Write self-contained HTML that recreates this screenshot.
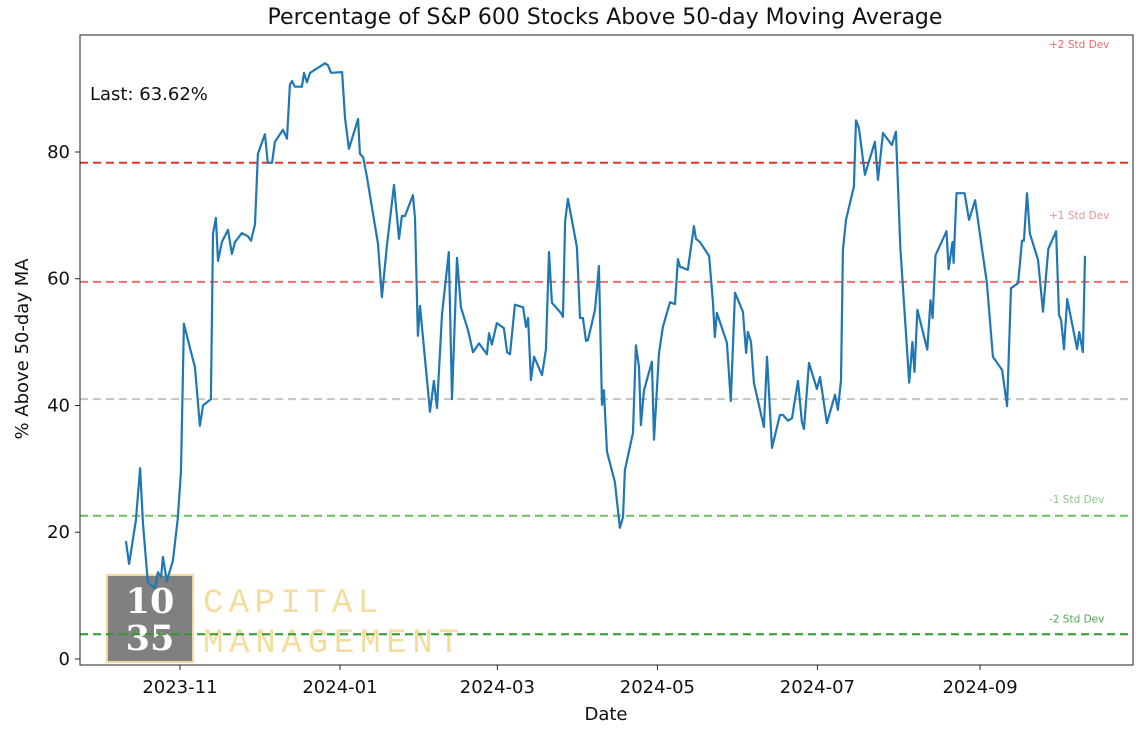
<!DOCTYPE html>
<html><head><meta charset="utf-8">
<style>
html,body{margin:0;padding:0;background:#fff;}
svg{display:block;font-family:"DejaVu Sans","Liberation Sans",sans-serif;}
</style></head>
<body>
<svg id="chart" width="1147" height="732" viewBox="0 0 1147 732" xmlns="http://www.w3.org/2000/svg">
<rect width="1147" height="732" fill="#fff"/>
<g id="logo">
  <rect x="107" y="575" width="86" height="87" fill="#808080" stroke="#f0d9a0" stroke-width="2"/>
  <text x="150" y="613" text-anchor="middle" font-family="'DejaVu Serif','Liberation Serif',serif" font-weight="bold" font-size="35" fill="#fff">10</text>
  <text x="150" y="650" text-anchor="middle" font-family="'DejaVu Serif','Liberation Serif',serif" font-weight="bold" font-size="35" fill="#fff">35</text>
  <text x="203" y="612" font-family="'Liberation Mono',monospace" font-size="34" fill="#f5dc9c" textLength="175" lengthAdjust="spacing">CAPITAL</text>
  <text x="203" y="652" font-family="'Liberation Mono',monospace" font-size="34" fill="#f5dc9c" textLength="256" lengthAdjust="spacing">MANAGEMENT</text>
</g>
<g id="refs"></g>
<g id="series"></g>
<g id="axes"></g>
<text x="605" y="24" text-anchor="middle" font-size="22" fill="#111">Percentage of S&amp;P 600 Stocks Above 50-day Moving Average</text>
<text x="606" y="720" text-anchor="middle" font-size="18" fill="#111">Date</text>
<text transform="translate(28,349) rotate(-90)" text-anchor="middle" font-size="18" fill="#111">% Above 50-day MA</text>
<text x="90" y="100" font-size="18" fill="#111">Last: 63.62%</text>
</svg>
<script>
// days since 2023-10-01
const dayOffsets = [10.4,11.6,14.2,15.8,16.9,18.8,21.5,22.6,23.8,24.5,26.0,28.3,30.2,31.4,32.5,34.8,36.7,38.6,39.8,42.8,43.6,44.7,45.5,47.0,49.3,50.8,52.0,54.6,56.9,58.1,59.6,60.7,63.4,64.5,66.1,67.2,70.3,71.8,72.9,73.7,74.8,77.5,78.3,79.4,80.6,86.3,87.4,88.6,92.8,93.9,95.4,98.9,99.6,100.8,102.3,106.5,108.0,109.9,112.6,114.5,115.6,116.8,119.8,120.6,121.7,122.5,126.3,127.8,129.0,130.9,133.5,134.7,136.6,138.1,140.8,142.7,145.0,148.0,148.8,149.9,151.8,154.5,155.7,156.8,158.7,161.8,162.9,163.7,164.8,166.0,169.0,170.5,171.7,172.8,176.2,177.0,177.8,178.9,182.3,183.5,184.6,185.8,186.5,189.2,190.7,191.9,192.6,193.8,196.8,198.7,199.9,200.6,203.7,204.8,206.0,206.7,207.9,210.9,211.7,213.6,215.1,217.8,219.7,220.8,221.6,224.6,226.2,226.9,227.7,229.2,232.7,234.2,234.9,235.7,239.5,241.0,242.6,245.6,246.8,247.5,248.7,249.8,253.6,254.8,256.7,259.7,260.9,262.8,264.3,266.6,268.1,268.9,270.8,273.8,275.0,277.6,280.7,281.8,283.0,283.7,284.9,287.9,288.7,289.8,292.1,295.9,297.1,299.0,302.4,303.9,305.6,309.0,310.2,311.0,312.1,315.9,317.1,317.9,319.0,323.2,324.0,325.5,325.9,327.0,330.1,331.8,334.1,338.6,340.9,344.4,346.3,347.8,350.5,352.0,352.7,353.9,355.0,358.1,360.0,362.0,365.0,366.1,366.9,368.0,369.2,373.0,373.8,375.2,376.0];
const pctAbove = [18.6,15.0,21.9,30.1,21.3,12.0,11.2,13.7,12.9,16.1,12.3,15.5,22.2,29.7,52.9,49.1,46.1,36.8,40.0,41.0,67.1,69.6,62.8,65.8,67.7,63.9,65.8,67.2,66.7,66.0,68.6,79.7,82.8,78.3,78.3,81.6,83.5,82.1,90.6,91.2,90.3,90.3,92.5,91.0,92.5,94.0,93.7,92.5,92.6,85.4,80.5,85.2,79.7,79.2,76.0,65.5,57.1,65.2,74.8,66.3,69.9,69.9,73.2,69.6,51.0,55.7,39.0,43.9,39.6,54.4,64.2,41.0,63.3,55.5,51.9,48.4,49.8,48.1,51.4,49.6,53.0,52.2,48.4,48.1,55.9,55.5,52.4,53.8,44.0,47.7,44.8,48.8,64.2,56.2,54.6,54.0,69.0,72.6,65.0,53.8,53.8,50.2,50.3,55.1,62.0,40.1,42.4,32.7,27.9,20.7,22.4,29.8,35.7,49.5,46.1,36.9,42.4,46.9,34.6,48.3,52.4,56.3,56.0,63.1,61.9,61.4,66.1,68.3,66.3,65.8,63.6,56.2,50.8,54.6,49.9,40.7,57.8,54.8,48.3,51.6,50.0,43.6,36.6,47.7,33.3,38.5,38.5,37.6,38.0,43.9,37.4,36.3,46.7,42.6,44.5,37.2,41.7,39.3,44.0,64.5,69.3,74.5,85.0,83.8,76.4,81.6,75.6,83.0,81.1,83.2,65.0,43.6,50.0,45.3,55.1,48.8,56.6,53.8,63.7,67.5,61.5,65.8,62.5,73.5,73.5,69.3,72.4,59.3,47.7,45.6,39.9,58.5,59.3,66.0,66.0,73.5,67.1,63.0,54.8,64.7,67.5,54.3,53.5,48.9,56.8,48.9,51.6,48.4,63.62];
const refValues = [78.3, 59.5, 41.0, 22.6, 3.9];
const refLabels = ["+2 Std Dev", "+1 Std Dev", "", "-1 Std Dev", "-2 Std Dev"];
const yTicks = [0, 20, 40, 60, 80];
const xTickLabels = ["2023-11","2024-01","2024-03","2024-05","2024-07","2024-09"];
const xTickDays = [31, 92, 152, 213, 274, 336];

const NS = "http://www.w3.org/2000/svg";
const L = 80, R = 1133, T = 35, B = 665;
const X0 = -7.1, X1 = 394.3, Y0 = -0.95, Y1 = 98.46;
function xs(d){ return L + (d - X0) / (X1 - X0) * (R - L); }
function ys(v){ return B - (v - Y0) / (Y1 - Y0) * (B - T); }
function mk(tag, attrs, parent){ const e = document.createElementNS(NS, tag); for (const k in attrs) e.setAttribute(k, attrs[k]); parent.appendChild(e); return e; }

const refs = document.getElementById('refs');
const refColors = ["#e8302a","#f07070","#c4c4c4","#6cbf5f","#2e9a2e"];
const refLabelColors = ["#f06a6a","#f29090","#000","#8cc98c","#4fa64f"];
const refLabelOffsets = [115, 63, 0, 13, 12];
refValues.forEach((v, i) => {
  const ln = mk('line', {x1: L, x2: R, y1: ys(v), y2: ys(v), stroke: refColors[i], 'stroke-width': 2, 'stroke-dasharray': '8,5'}, refs);
  
  
  if (refLabels[i]) {
    const t = mk('text', {x: 1049, y: ys(v) - refLabelOffsets[i], 'font-size': 10.5, fill: refLabelColors[i]}, refs);
    t.textContent = refLabels[i];
    
    
  }
});

const series = document.getElementById('series');
let d = '';
dayOffsets.forEach((day, i) => { d += (i ? 'L' : 'M') + xs(day).toFixed(1) + ',' + ys(pctAbove[i]).toFixed(1); });
const path = mk('path', {d: d, fill: 'none', stroke: '#1f77b4', 'stroke-width': 2.2, 'stroke-linejoin': 'round'}, series);



const axes = document.getElementById('axes');
const frame = mk('rect', {x: L, y: T, width: R - L, height: B - T, fill: 'none', stroke: '#222', 'stroke-width': 1}, axes);


yTicks.forEach(v => {
  const y = ys(v);
  mk('line', {x1: L - 5, x2: L, y1: y, y2: y, stroke: '#222'}, axes);
  const t = mk('text', {x: L - 10, y: y + 6, 'text-anchor': 'end', 'font-size': 18, fill: '#111'}, axes);
  t.textContent = v;
  
  
});
xTickDays.forEach((day, i) => {
  const x = xs(day);
  mk('line', {x1: x, x2: x, y1: B, y2: B + 5, stroke: '#222'}, axes);
  const t = mk('text', {x: x, y: B + 28, 'text-anchor': 'middle', 'font-size': 18, fill: '#111'}, axes);
  t.textContent = xTickLabels[i];
  
  
});
</script>
</body></html>
